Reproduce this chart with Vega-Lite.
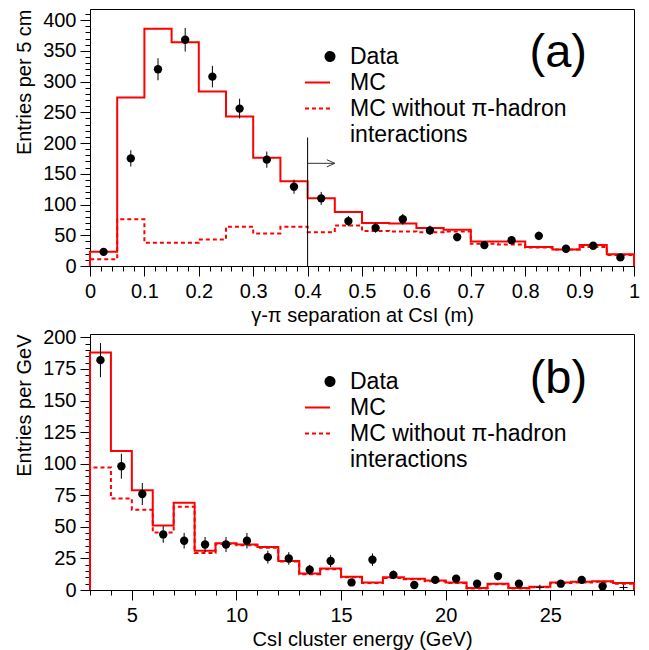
{
  "$schema": "https://vega.github.io/schema/vega-lite/v6.json",
  "background": "white",
  "padding": {"left": 14, "top": 8, "right": 5, "bottom": 5},
  "bounds": "flush",
  "spacing": 68,
  "resolve": {"scale": {"color": "independent", "strokeDash": "independent"}, "legend": {"color": "independent", "strokeDash": "independent"}},
  "config": {
    "font": "Liberation Sans",
    "view": {"stroke": "black", "strokeWidth": 1},
    "axis": {
      "labelFont": "Liberation Sans", "titleFont": "Liberation Sans",
      "grid": false, "domainColor": "black", "tickColor": "black",
      "labelColor": "black", "titleColor": "black",
      "labelFontSize": 20, "titleFontSize": 20, "titleFontWeight": "normal",
      "labelFlush": false, "labelOverlap": false, "domainWidth": 1, "tickWidth": 1
    },
    "legend": {
      "orient": "none", "legendX": 214, "legendY": 34, "padding": 0,
      "labelFont": "Liberation Sans", "labelFontSize": 23, "labelColor": "black",
      "labelOffset": 19, "rowPadding": 0, "gridAlign": "all", "symbolSize": 625, "labelLimit": 400
    }
  },
  "datasets": {
    "a_pts": [
      {"x": 0.025, "y": 23, "lo": 18.2, "hi": 27.8},
      {"x": 0.075, "y": 175, "lo": 161.8, "hi": 188.2},
      {"x": 0.125, "y": 320, "lo": 302.1, "hi": 337.9},
      {"x": 0.175, "y": 368, "lo": 348.8, "hi": 387.2},
      {"x": 0.225, "y": 308, "lo": 290.5, "hi": 325.5},
      {"x": 0.275, "y": 256, "lo": 240, "hi": 272},
      {"x": 0.325, "y": 173, "lo": 159.8, "hi": 186.2},
      {"x": 0.375, "y": 129, "lo": 117.6, "hi": 140.4},
      {"x": 0.425, "y": 110, "lo": 99.5, "hi": 120.5},
      {"x": 0.475, "y": 73, "lo": 64.5, "hi": 81.5},
      {"x": 0.525, "y": 62, "lo": 54.1, "hi": 69.9},
      {"x": 0.575, "y": 76, "lo": 67.3, "hi": 84.7},
      {"x": 0.625, "y": 58, "lo": 50.4, "hi": 65.6},
      {"x": 0.675, "y": 47, "lo": 40.1, "hi": 53.9},
      {"x": 0.725, "y": 34, "lo": 28.2, "hi": 39.8},
      {"x": 0.775, "y": 42, "lo": 35.5, "hi": 48.5},
      {"x": 0.825, "y": 49, "lo": 42, "hi": 56},
      {"x": 0.875, "y": 28, "lo": 22.7, "hi": 33.3},
      {"x": 0.925, "y": 33, "lo": 27.3, "hi": 38.7},
      {"x": 0.975, "y": 14, "lo": 10.3, "hi": 17.7}
    ],
    "a_hist": [
      {"x": 0, "y": 0, "s": "MC"}, {"x": 0, "y": 23, "s": "MC"}, {"x": 0.05, "y": 274, "s": "MC"},
      {"x": 0.1, "y": 386, "s": "MC"}, {"x": 0.15, "y": 364, "s": "MC"}, {"x": 0.2, "y": 284, "s": "MC"},
      {"x": 0.25, "y": 243, "s": "MC"}, {"x": 0.3, "y": 176, "s": "MC"}, {"x": 0.35, "y": 138, "s": "MC"},
      {"x": 0.4, "y": 110, "s": "MC"}, {"x": 0.45, "y": 88, "s": "MC"}, {"x": 0.5, "y": 70, "s": "MC"},
      {"x": 0.55, "y": 69, "s": "MC"}, {"x": 0.6, "y": 62, "s": "MC"}, {"x": 0.65, "y": 59, "s": "MC"},
      {"x": 0.7, "y": 40, "s": "MC"}, {"x": 0.75, "y": 40, "s": "MC"}, {"x": 0.8, "y": 31, "s": "MC"},
      {"x": 0.85, "y": 27, "s": "MC"}, {"x": 0.9, "y": 34, "s": "MC"}, {"x": 0.95, "y": 19, "s": "MC"},
      {"x": 1, "y": 19, "s": "MC"}, {"x": 1, "y": 0, "s": "MC"},
      {"x": 0, "y": 0, "s": "MCw"}, {"x": 0, "y": 11, "s": "MCw"}, {"x": 0.05, "y": 76, "s": "MCw"},
      {"x": 0.1, "y": 38, "s": "MCw"}, {"x": 0.15, "y": 38, "s": "MCw"}, {"x": 0.2, "y": 43, "s": "MCw"},
      {"x": 0.25, "y": 64, "s": "MCw"}, {"x": 0.3, "y": 53, "s": "MCw"}, {"x": 0.35, "y": 64, "s": "MCw"},
      {"x": 0.4, "y": 55, "s": "MCw"}, {"x": 0.45, "y": 66, "s": "MCw"}, {"x": 0.5, "y": 57, "s": "MCw"},
      {"x": 0.55, "y": 56, "s": "MCw"}, {"x": 0.6, "y": 55, "s": "MCw"}, {"x": 0.65, "y": 56, "s": "MCw"},
      {"x": 0.7, "y": 36, "s": "MCw"}, {"x": 0.75, "y": 35, "s": "MCw"}, {"x": 0.8, "y": 30, "s": "MCw"},
      {"x": 0.85, "y": 27, "s": "MCw"}, {"x": 0.9, "y": 31, "s": "MCw"}, {"x": 0.95, "y": 18, "s": "MCw"},
      {"x": 1, "y": 18, "s": "MCw"}, {"x": 1, "y": 0, "s": "MCw"}
    ],
    "b_pts": [
      {"x": 3.5, "y": 182, "lo": 168.5, "hi": 195.5},
      {"x": 4.5, "y": 98, "lo": 88.1, "hi": 107.9},
      {"x": 5.5, "y": 76, "lo": 67.3, "hi": 84.7},
      {"x": 6.5, "y": 44, "lo": 37.4, "hi": 50.6},
      {"x": 7.5, "y": 39, "lo": 32.8, "hi": 45.2},
      {"x": 8.5, "y": 36, "lo": 30, "hi": 42},
      {"x": 9.5, "y": 36, "lo": 30, "hi": 42},
      {"x": 10.5, "y": 39, "lo": 32.8, "hi": 45.2},
      {"x": 11.5, "y": 26, "lo": 20.9, "hi": 31.1},
      {"x": 12.5, "y": 25, "lo": 20, "hi": 30},
      {"x": 13.5, "y": 16, "lo": 12, "hi": 20},
      {"x": 14.5, "y": 23, "lo": 18.2, "hi": 27.8},
      {"x": 15.5, "y": 6, "lo": 3.6, "hi": 8.4},
      {"x": 16.5, "y": 24, "lo": 19.1, "hi": 28.9},
      {"x": 17.5, "y": 12, "lo": 8.5, "hi": 15.5},
      {"x": 18.5, "y": 4, "lo": 2, "hi": 6},
      {"x": 19.5, "y": 8, "lo": 5.2, "hi": 10.8},
      {"x": 20.5, "y": 9, "lo": 6, "hi": 12},
      {"x": 21.5, "y": 5, "lo": 2.8, "hi": 7.2},
      {"x": 22.5, "y": 11, "lo": 7.7, "hi": 14.3},
      {"x": 23.5, "y": 5, "lo": 2.8, "hi": 7.2},
      {"x": 25.5, "y": 5, "lo": 2.8, "hi": 7.2},
      {"x": 26.5, "y": 8, "lo": 5.2, "hi": 10.8},
      {"x": 27.5, "y": 3, "lo": 1.3, "hi": 4.7}
    ],
    "b_faint": [
      {"x": 24.5, "y": 2},
      {"x": 28.5, "y": 2}
    ],
    "b_hist": [
      {"x": 3, "y": 0, "s": "MC"}, {"x": 3, "y": 188, "s": "MC"}, {"x": 4, "y": 110, "s": "MC"},
      {"x": 5, "y": 79, "s": "MC"}, {"x": 6, "y": 51, "s": "MC"}, {"x": 7, "y": 69, "s": "MC"},
      {"x": 8, "y": 31, "s": "MC"}, {"x": 9, "y": 37, "s": "MC"}, {"x": 10, "y": 36, "s": "MC"},
      {"x": 11, "y": 34, "s": "MC"}, {"x": 12, "y": 23, "s": "MC"}, {"x": 13, "y": 13, "s": "MC"},
      {"x": 14, "y": 17, "s": "MC"}, {"x": 15, "y": 10.5, "s": "MC"}, {"x": 16, "y": 6, "s": "MC"},
      {"x": 17, "y": 10, "s": "MC"}, {"x": 18, "y": 9, "s": "MC"}, {"x": 19, "y": 7.5, "s": "MC"},
      {"x": 20, "y": 6, "s": "MC"}, {"x": 21, "y": 1.6, "s": "MC"}, {"x": 22, "y": 5, "s": "MC"},
      {"x": 23, "y": 1.6, "s": "MC"}, {"x": 24, "y": 2.6, "s": "MC"}, {"x": 25, "y": 6, "s": "MC"},
      {"x": 26, "y": 6.5, "s": "MC"}, {"x": 27, "y": 7, "s": "MC"}, {"x": 28, "y": 5.5, "s": "MC"},
      {"x": 29, "y": 5.5, "s": "MC"}, {"x": 29, "y": 0, "s": "MC"},
      {"x": 3, "y": 0, "s": "MCw"}, {"x": 3, "y": 97, "s": "MCw"}, {"x": 4, "y": 72.5, "s": "MCw"},
      {"x": 5, "y": 63.6, "s": "MCw"}, {"x": 6, "y": 45.6, "s": "MCw"}, {"x": 7, "y": 66, "s": "MCw"},
      {"x": 8, "y": 29.3, "s": "MCw"}, {"x": 9, "y": 36.4, "s": "MCw"}, {"x": 10, "y": 35.5, "s": "MCw"},
      {"x": 11, "y": 33.5, "s": "MCw"}, {"x": 12, "y": 22.5, "s": "MCw"}, {"x": 13, "y": 12.5, "s": "MCw"},
      {"x": 14, "y": 16.5, "s": "MCw"}, {"x": 15, "y": 10, "s": "MCw"}, {"x": 16, "y": 5.5, "s": "MCw"},
      {"x": 17, "y": 9.5, "s": "MCw"}, {"x": 18, "y": 8.5, "s": "MCw"}, {"x": 19, "y": 7, "s": "MCw"},
      {"x": 20, "y": 5.5, "s": "MCw"}, {"x": 21, "y": 1.2, "s": "MCw"}, {"x": 22, "y": 4.5, "s": "MCw"},
      {"x": 23, "y": 1.2, "s": "MCw"}, {"x": 24, "y": 2.2, "s": "MCw"}, {"x": 25, "y": 5.5, "s": "MCw"},
      {"x": 26, "y": 6, "s": "MCw"}, {"x": 27, "y": 6.5, "s": "MCw"}, {"x": 28, "y": 5, "s": "MCw"},
      {"x": 29, "y": 5, "s": "MCw"}, {"x": 29, "y": 0, "s": "MCw"}
    ]
  },
  "vconcat": [
    {
      "width": 544,
      "height": 257,
      "resolve": {"axis": {"x": "independent", "y": "independent"}},
      "layer": [
        {
          "data": {"name": "a_hist"},
          "mark": {"type": "line", "interpolate": "step-after", "strokeWidth": 2},
          "encoding": {
            "x": {"field": "x", "type": "quantitative",
              "scale": {"domain": [0, 1], "nice": false, "zero": false},
              "axis": {"orient": "bottom", "values": [0, 0.1, 0.2, 0.3, 0.4, 0.5, 0.6, 0.7, 0.8, 0.9, 1], "format": "~g", "tickSize": 10, "labelPadding": 5, "title": "γ-π separation at CsI (m)", "titlePadding": 4}},
            "y": {"field": "y", "type": "quantitative",
              "scale": {"domain": [0, 418], "nice": false, "zero": false},
              "axis": {"orient": "left", "values": [0, 50, 100, 150, 200, 250, 300, 350, 400], "tickSize": 10, "labelPadding": 4, "title": "Entries per 5 cm", "titleAnchor": "end", "titlePadding": 8}},
            "color": {"field": "s", "type": "nominal",
              "scale": {"domain": ["Data", "MC", "MCw", "int"], "range": ["black", "#ff0000", "#ff0000", "transparent"]},
              "legend": {
                "title": null,
                "labelExpr": "datum.value === 'MCw' ? 'MC without π-hadron' : datum.value === 'int' ? 'interactions' : datum.label",
                "encode": {
                  "symbols": {"update": {
                    "shape": {"signal": "datum.value === 'Data' ? 'M0.64,0A0.36,0.36,0,1,1,1.36,0A0.36,0.36,0,1,1,0.64,0Z' : 'stroke'"},
                    "fill": {"signal": "datum.value === 'Data' ? 'black' : 'transparent'"},
                    "stroke": {"signal": "datum.value === 'Data' || datum.value === 'int' ? 'transparent' : '#ff0000'"},
                    "strokeWidth": {"value": 2},
                    "strokeDash": {"signal": "datum.value === 'MCw' ? [4, 3] : [1, 0]"},
                    "opacity": {"value": 1}
                  }}
                }
              }},
            "strokeDash": {"field": "s", "type": "nominal",
              "scale": {"domain": ["MC", "MCw"], "range": [[1, 0], [4, 3]]}, "legend": null},
            "order": {"value": null}
          }
        },
        {
          "data": {"name": "a_pts"},
          "mark": {"type": "rule", "color": "black", "strokeWidth": 1},
          "encoding": {
            "x": {"field": "x", "type": "quantitative",
              "axis": {"orient": "bottom", "tickCount": 50, "labels": false, "tickSize": 5, "domain": false, "title": null}},
            "y": {"field": "lo", "type": "quantitative",
              "axis": {"orient": "left", "tickCount": 42, "labels": false, "tickSize": 5, "domain": false, "title": null}},
            "y2": {"field": "hi"}
          }
        },
        {
          "data": {"name": "a_pts"},
          "mark": {"type": "point", "filled": true, "size": 70, "color": "black", "opacity": 1},
          "encoding": {
            "x": {"field": "x", "type": "quantitative", "axis": null},
            "y": {"field": "y", "type": "quantitative", "axis": null}
          }
        },
        {
          "data": {"values": [{}]},
          "mark": {"type": "rule", "color": "black", "strokeWidth": 1},
          "encoding": {
            "x": {"datum": 0.4, "type": "quantitative", "axis": null},
            "y": {"datum": 0, "type": "quantitative", "axis": null},
            "y2": {"datum": 209}
          }
        },
        {
          "data": {"values": [{}]},
          "mark": {"type": "rule", "color": "#333333", "strokeWidth": 1},
          "encoding": {
            "x": {"datum": 0.4, "type": "quantitative", "axis": null},
            "x2": {"datum": 0.45},
            "y": {"datum": 167, "type": "quantitative", "axis": null}
          }
        },
        {
          "data": {"values": [{}]},
          "mark": {"type": "point", "shape": "M-1,-0.45L0,0L-1,0.45", "size": 256, "filled": false, "stroke": "#333333", "strokeWidth": 1, "opacity": 1},
          "encoding": {
            "x": {"datum": 0.45, "type": "quantitative", "axis": null},
            "y": {"datum": 167, "type": "quantitative", "axis": null}
          }
        },
        {
          "data": {"values": [{}]},
          "mark": {"type": "text", "text": "(a)", "align": "right", "baseline": "alphabetic", "fontSize": 47, "color": "black", "font": "Liberation Sans"},
          "encoding": {
            "x": {"datum": 0.9136, "type": "quantitative", "axis": null},
            "y": {"datum": 323, "type": "quantitative", "axis": null}
          }
        }
      ]
    },
    {
      "width": 544,
      "height": 256,
      "resolve": {"axis": {"x": "independent", "y": "independent"}},
      "layer": [
        {
          "data": {"name": "b_hist"},
          "mark": {"type": "line", "interpolate": "step-after", "strokeWidth": 2},
          "encoding": {
            "x": {"field": "x", "type": "quantitative",
              "scale": {"domain": [3, 29], "nice": false, "zero": false},
              "axis": {"orient": "bottom", "values": [5, 10, 15, 20, 25], "format": "~g", "tickSize": 10, "labelPadding": 5, "title": "CsI cluster energy (GeV)", "titlePadding": 4}},
            "y": {"field": "y", "type": "quantitative",
              "scale": {"domain": [0, 202.7], "nice": false, "zero": false},
              "axis": {"orient": "left", "values": [0, 25, 50, 75, 100, 125, 150, 175, 200], "tickSize": 10, "labelPadding": 4, "title": "Entries per GeV", "titleAnchor": "end", "titlePadding": 8}},
            "color": {"field": "s", "type": "nominal",
              "scale": {"domain": ["Data", "MC", "MCw", "int"], "range": ["black", "#ff0000", "#ff0000", "transparent"]},
              "legend": {
                "title": null,
                "labelExpr": "datum.value === 'MCw' ? 'MC without π-hadron' : datum.value === 'int' ? 'interactions' : datum.label",
                "encode": {
                  "symbols": {"update": {
                    "shape": {"signal": "datum.value === 'Data' ? 'M0.64,0A0.36,0.36,0,1,1,1.36,0A0.36,0.36,0,1,1,0.64,0Z' : 'stroke'"},
                    "fill": {"signal": "datum.value === 'Data' ? 'black' : 'transparent'"},
                    "stroke": {"signal": "datum.value === 'Data' || datum.value === 'int' ? 'transparent' : '#ff0000'"},
                    "strokeWidth": {"value": 2},
                    "strokeDash": {"signal": "datum.value === 'MCw' ? [4, 3] : [1, 0]"},
                    "opacity": {"value": 1}
                  }}
                }
              }},
            "strokeDash": {"field": "s", "type": "nominal",
              "scale": {"domain": ["MC", "MCw"], "range": [[1, 0], [4, 3]]}, "legend": null},
            "order": {"value": null}
          }
        },
        {
          "data": {"name": "b_pts"},
          "mark": {"type": "rule", "color": "black", "strokeWidth": 1},
          "encoding": {
            "x": {"field": "x", "type": "quantitative",
              "axis": {"orient": "bottom", "tickCount": 26, "labels": false, "tickSize": 5, "domain": false, "title": null}},
            "y": {"field": "lo", "type": "quantitative",
              "axis": {"orient": "left", "tickCount": 40, "labels": false, "tickSize": 5, "domain": false, "title": null}},
            "y2": {"field": "hi"}
          }
        },
        {
          "data": {"name": "b_pts"},
          "mark": {"type": "point", "filled": true, "size": 70, "color": "black", "opacity": 1},
          "encoding": {
            "x": {"field": "x", "type": "quantitative", "axis": null},
            "y": {"field": "y", "type": "quantitative", "axis": null}
          }
        },
        {
          "data": {"name": "b_faint"},
          "mark": {"type": "point", "shape": "M-1,0L1,0M0,-0.7L0,0.7", "size": 64, "filled": false, "stroke": "black", "strokeWidth": 1, "opacity": 1},
          "encoding": {
            "x": {"field": "x", "type": "quantitative", "axis": null},
            "y": {"field": "y", "type": "quantitative", "axis": null}
          }
        },
        {
          "data": {"values": [{}]},
          "mark": {"type": "text", "text": "(b)", "align": "right", "baseline": "alphabetic", "fontSize": 47, "color": "black", "font": "Liberation Sans"},
          "encoding": {
            "x": {"datum": 26.76, "type": "quantitative", "axis": null},
            "y": {"datum": 156.2, "type": "quantitative", "axis": null}
          }
        }
      ]
    }
  ]
}
